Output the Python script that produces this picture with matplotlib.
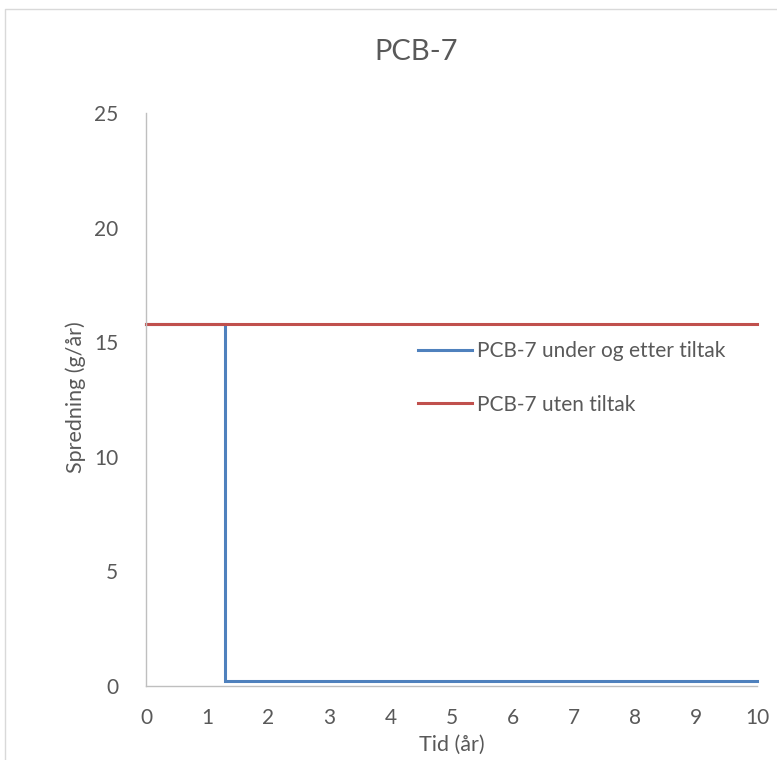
import matplotlib
matplotlib.use("Agg")
import matplotlib.pyplot as plt
from matplotlib.lines import Line2D

plt.rcParams['font.family'] = ['Lato', 'DejaVu Sans']

# tid (år) og spredning (g/år)
tid_tiltak = [0, 1.3, 1.3, 10]
spredning_tiltak = [15.8, 15.8, 0.2, 0.2]
tid_uten = [0, 10]
spredning_uten = [15.8, 15.8]

x_ticks = list(range(0, 11))
y_ticks = [0, 5, 10, 15, 20, 25]

grey_txt = "#595959"
blaa = "#4F81BD"
roed = "#C0504D"

fig = plt.figure(figsize=(7.77, 7.6), dpi=100)
ax = fig.add_axes([146 / 777, 1 - 686 / 760, 611 / 777, 573 / 760])

ax.plot(tid_tiltak, spredning_tiltak, color=blaa, lw=2.2, label="PCB-7 under og etter tiltak",
        solid_joinstyle="miter", clip_on=False)
ax.plot(tid_uten, spredning_uten, color=roed, lw=2.2, label="PCB-7 uten tiltak", clip_on=False)

ax.set_xlim(0, 10)
ax.set_ylim(0, 25)
ax.set_xticks(x_ticks)
ax.set_yticks(y_ticks)
ax.tick_params(length=0, labelsize=15, labelcolor=grey_txt)
ax.tick_params(axis="x", pad=16)
ax.tick_params(axis="y", pad=20)

for s in ["top", "right"]:
    ax.spines[s].set_visible(False)
for s in ["left", "bottom"]:
    ax.spines[s].set_color("#BFBFBF")
    ax.spines[s].set_linewidth(1)

ax.set_xlabel("Tid (år)", fontsize=15.5, color=grey_txt, va="center")
ax.xaxis.set_label_coords(0.5, (686 - 745) / 573)
ax.set_ylabel("Spredning (g/år)", fontsize=15.5, color=grey_txt, va="center")
ax.yaxis.set_label_coords((76 - 146) / 611, (686 - 397) / 573)
fig.text(416 / 777, 1 - 52 / 760, "PCB-7", fontsize=21, color=grey_txt, ha="center", va="center")

leg = ax.legend(loc="center left", bbox_to_anchor=((418 - 146) / 611, (686 - 378) / 573),
                frameon=False, fontsize=15, handlelength=2.6, handletextpad=0.25,
                labelspacing=1.6, borderpad=0, borderaxespad=0)
for t in leg.get_texts():
    t.set_color(grey_txt)

# ramme rundt diagrammet
fig.add_artist(Line2D([5 / 777, 5 / 777, 1], [0, 1 - 9 / 760, 1 - 9 / 760],
                      transform=fig.transFigure, color="#D9D9D9", lw=1))

fig.savefig("out.png", dpi=100)
